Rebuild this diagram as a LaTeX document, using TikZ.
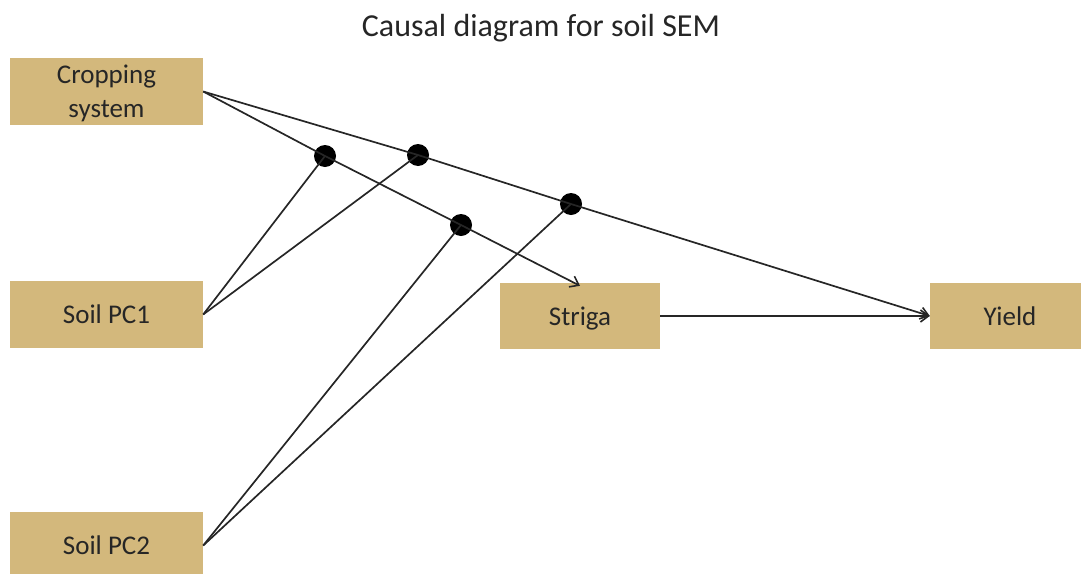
\documentclass[tikz,border=0pt]{standalone}
\usepackage{fontspec}
\setmainfont{Carlito}
\usetikzlibrary{arrows.meta}
\definecolor{boxtan}{HTML}{D3B87C}
\tikzset{
  var/.style={fill=boxtan, minimum width=193pt, minimum height=67pt, align=center, font=\fontsize{27}{34}\selectfont, text=black!85, inner sep=0pt, text depth=0pt},
  dot/.style={circle, fill=black, minimum size=22pt, inner sep=0pt},
  path/.style={line width=1.7pt, black!85},
  arr/.style={-{Straight Barb[length=8pt, width=12pt, line width=1.6pt]}}
}
\begin{document}
\begin{tikzpicture}[x=1pt, y=-1pt]
        \clip (0,0) rectangle (1081,573);
        % Define the nodes
        \node[text=black!85] (title) at (541,28) {\fontsize{32}{38}\selectfont Causal diagram for soil SEM};

        \node[var] (crop) at (106.5,91.5) {Cropping\\system};
        \node[var] (pc1) at (106.5,314.5) {Soil PC1};
        \node[var] (pc2) at (106.5,545.5) {Soil PC2};
        \node[var, minimum width=160pt, minimum height=66pt] (striga) at (580,316) {Striga};
        \node[var, minimum width=160pt, minimum height=66pt] (yield) at (1010,316) {Yield};

        \node[dot] (d1) at (325,156) {};
        \node[dot] (d2) at (418,155) {};
        \node[dot] (d3) at (461,225) {};
        \node[dot] (d4) at (571,204) {};

        % Draw the edges
        \draw[path, arr] (crop.east) -- (d1.center) -- (d3.center) -- ([yshift=-3pt]striga.north);
        \draw[path, arr] (crop.east) -- (d2.center) -- (d4.center) -- (yield.west);
        \draw[path] (pc1.east) -- (d1.center);
        \draw[path] (pc1.east) -- (d2.center);
        \draw[path] (pc2.east) -- (d3.center);
        \draw[path] (pc2.east) -- (d4.center);
        \draw[path, arr] (striga.east) -- (yield.west);
    \end{tikzpicture}
\end{document}
